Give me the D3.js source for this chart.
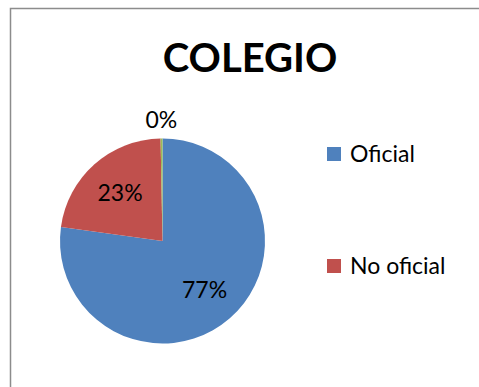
<!DOCTYPE html>
<html>
<head>
<meta charset="utf-8">
<script src="https://cdn.jsdelivr.net/npm/d3@7"></script>
<style>
  body { margin: 0; background: #fff; }
  text { font-family: Lato, "Open Sans", sans-serif; }
</style>
</head>
<body>
<svg id="canvas" width="479" height="387"></svg>
<script>
let categories = ['Oficial', 'No oficial', ''];
let values = [77.2, 22.5, 0.3];
let labels = ['77%', '23%', '0%'];
let colors = ['#4F81BD', '#C0504D', '#9BBB59'];

let canvas = d3.select('#canvas');

// chart border (right and bottom edges fall outside the picture)
canvas.append('rect')
    .attr('x', 10.5)
    .attr('y', 8.5)
    .attr('width', 500)
    .attr('height', 400)
    .attr('fill', '#fff')
    .attr('stroke', '#8c8c8c')
    .attr('stroke-width', 1.5);

canvas.append('text')
    .attr('x', 250)
    .attr('y', 72)
    .attr('text-anchor', 'middle')
    .attr('font-size', 40)
    .attr('font-weight', 'bold')
    .text('COLEGIO');

let radius = 102.5;
let g = canvas.append('g').attr('transform', 'translate(162.5,241)');

let pie = d3.pie().sort(null).value((d) => d);
let arcs = pie(values);
let arc = d3.arc().innerRadius(0).outerRadius(radius);
let labelArc = d3.arc().innerRadius(64).outerRadius(64);
let outerArc = d3.arc().innerRadius(121).outerRadius(121);

g.selectAll('path')
    .data(arcs)
    .enter()
    .append('path')
    .attr('d', arc)
    .attr('fill', (d, i) => colors[i]);

g.selectAll('text.label')
    .data(arcs)
    .enter()
    .append('text')
    .attr('class', 'label')
    .attr('transform', (d) => {
        let c = (d.endAngle - d.startAngle < 0.2) ? outerArc.centroid(d) : labelArc.centroid(d);
        return 'translate(' + c[0] + ',' + c[1] + ')';
    })
    .attr('text-anchor', 'middle')
    .attr('dy', '0.36em')
    .attr('font-size', 23)
    .text((d, i) => labels[i]);

// legend only lists named categories
let legendItems = categories.filter((c) => c !== '');
let legendY = d3.scalePoint().domain(legendItems).range([154, 266]);

let legend = canvas.selectAll('g.legend')
    .data(legendItems)
    .enter()
    .append('g')
    .attr('class', 'legend')
    .attr('transform', (d) => 'translate(327,' + legendY(d) + ')');

legend.append('rect')
    .attr('x', 0)
    .attr('y', -7)
    .attr('width', 14)
    .attr('height', 14)
    .attr('fill', (d, i) => colors[i]);

legend.append('text')
    .attr('x', 23)
    .attr('y', 7.5)
    .attr('font-size', 23)
    .text((d) => d);
</script>
</body>
</html>
